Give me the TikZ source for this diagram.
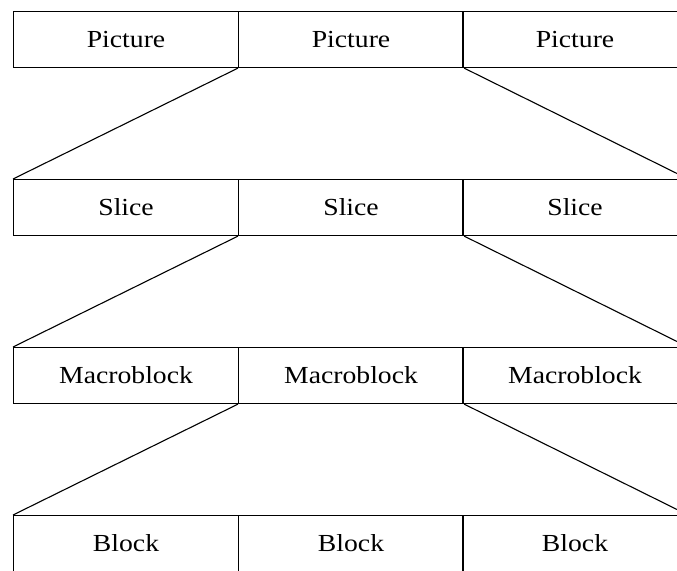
\documentclass[tikz,border=0pt]{standalone}
\usepackage{fontspec}
\setmainfont{Liberation Serif}
\begin{document}
\begin{tikzpicture}[x=1pt,y=-1pt,
  cell/.style={draw, line width=1.1pt, minimum width=225pt, minimum height=56pt,
    inner sep=0pt, anchor=north west,
    font=\fontsize{24.5}{28}\selectfont},
  link/.style={line width=1.1pt}]
\useasboundingbox (0,0) rectangle (677,570);
\clip (0,0) rectangle (677,570);
\newcommand{\wide}[1]{\scalebox{1.13}[1]{#1}}
% four levels, three cells each
\foreach \lvl/\txt [count=\r from 0] in {p/Picture, s/Slice, m/Macroblock, b/Block}{
  \pgfmathsetmacro{\yy}{11+168*\r}
  \node[cell] (\lvl1) at (13,\yy)  {\wide{\txt}};
  \node[cell] (\lvl2) at (238,\yy) {\wide{\txt}};
  \node[cell] (\lvl3) at (462,\yy) {\wide{\txt}};
}
% the middle cell of each level fans out to the whole level below
\foreach \up/\down in {p/s, s/m, m/b}{
  \draw[link] (\up2.south west) -- (\down1.north west);
  \draw[link] (\up2.south east) -- (\down3.north east);
}
\end{tikzpicture}
\end{document}
